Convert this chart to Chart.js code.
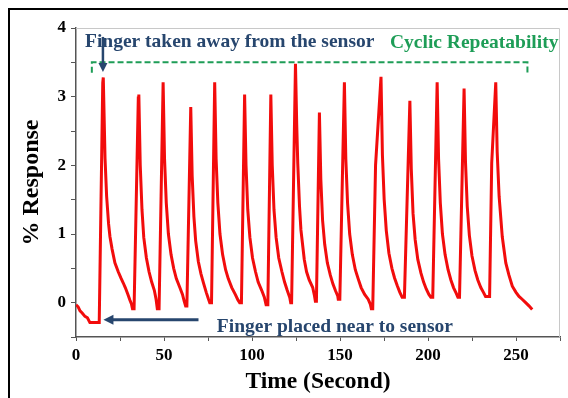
<!DOCTYPE html>
<html>
<head>
<meta charset="utf-8">
<script src="https://cdn.jsdelivr.net/npm/chart.js@4"></script>
<style>
  body { margin: 0; background: #fff; }
  canvas { display: block; }
</style>
</head>
<body>
<canvas id="responseChart" width="568" height="398"></canvas>
<script>
// time (s) and % response
const timeSec = [
    0, 1.2, 2.3, 3.5, 5.1, 6.5, 7.9, 13.2, 15.2, 15.5,
    16.5, 17.4, 18.5, 19.3, 20.5, 22.1, 24.0, 25.5, 26.8, 28.0, 29.5, 30.6, 31.5, 32.1, 33.0, 35.4, 35.7,
    36.5, 37.5, 38.5, 40.0, 41.5, 43.0, 44.5, 45.5, 46.2, 47.2, 49.5,
    50.3, 51.3, 52.5, 54.0, 55.5, 57.0, 59.0, 60.5, 61.5, 62.3, 63.0, 65.2,
    66.0, 67.0, 68.0, 69.5, 71.0, 72.5, 74.0, 75.3, 76.0, 77.0, 78.8,
    79.6, 80.6, 81.8, 83.3, 85.0, 86.5, 88.5, 90.5, 92.0, 93.0, 94.0, 95.8,
    96.6, 97.6, 98.8, 100.3, 102.0, 103.5, 105.5, 107.0, 108.0, 109.0, 110.7,
    111.5, 112.5, 113.7, 115.2, 117.0, 118.5, 120.0, 121.5, 122.0, 122.5, 124.7,
    125.4, 126.0, 127.0, 127.8, 129.7, 131.0, 132.5, 134.5, 135.5, 136.0, 136.6, 138.3,
    139.1, 140.1, 141.3, 142.8, 144.5, 146.0, 147.5, 148.7, 149.0, 149.9, 152.5,
    153.3, 154.3, 155.5, 157.0, 158.7, 160.3, 162.0, 164.0, 166.0, 167.2, 167.8, 168.6, 170.2, 173.3,
    174.1, 175.1, 176.3, 177.8, 179.5, 181.0, 182.5, 184.0, 185.3, 186.6, 189.7,
    190.5, 191.5, 192.7, 194.2, 196.0, 197.5, 199.0, 200.5, 201.6, 202.7, 205.2,
    206.0, 207.0, 208.2, 209.7, 211.4, 213.0, 214.5, 216.0, 217.0, 217.9, 220.5,
    221.3, 222.3, 223.5, 225.0, 226.7, 228.3, 230.0, 231.5, 232.7, 235.0, 236.2, 238.5,
    239.3, 240.4, 242.2, 244.2, 246.0, 247.9, 250.0, 251.7, 253.5, 255.5, 257.5, 259.2
];
const responsePct = [
    -0.03, -0.06, -0.12, -0.15, -0.2, -0.22, -0.29, -0.29, 3.2, 3.28,
    2.1, 1.55, 1.15, 0.96, 0.78, 0.58, 0.45, 0.36, 0.29, 0.22, 0.12, 0.04, -0.02, -0.09, -0.09, 2.98, 3.03,
    2.0, 1.35, 0.95, 0.65, 0.45, 0.3, 0.18, 0.05, -0.09, -0.09, 3.21,
    2.1, 1.45, 1.0, 0.7, 0.5, 0.35, 0.22, 0.12, 0.02, -0.05, -0.05, 2.85,
    1.85, 1.25, 0.9, 0.6, 0.42, 0.28, 0.15, 0.05, 0.0, 0.0, 3.21,
    2.1, 1.45, 1.0, 0.7, 0.48, 0.35, 0.22, 0.12, 0.04, 0.0, 0.0, 3.03,
    2.0, 1.35, 0.95, 0.65, 0.45, 0.3, 0.18, 0.08, -0.03, -0.03, 3.03,
    2.0, 1.35, 0.95, 0.65, 0.45, 0.3, 0.18, 0.07, 0.0, 0.0, 3.48,
    2.6, 2.03, 1.4, 1.06, 0.63, 0.45, 0.33, 0.22, 0.1, 0.02, 0.02, 2.77,
    1.8, 1.2, 0.85, 0.58, 0.4, 0.27, 0.17, 0.1, 0.05, 0.05, 3.21,
    2.1, 1.45, 1.0, 0.7, 0.48, 0.35, 0.22, 0.12, 0.05, -0.02, -0.09, -0.09, 2.0, 3.29,
    2.15, 1.5, 1.05, 0.72, 0.5, 0.36, 0.25, 0.15, 0.08, 0.08, 2.94,
    1.95, 1.3, 0.92, 0.63, 0.43, 0.3, 0.2, 0.12, 0.08, 0.08, 3.21,
    2.1, 1.45, 1.0, 0.7, 0.48, 0.33, 0.22, 0.14, 0.08, 0.08, 3.12,
    2.05, 1.4, 0.98, 0.68, 0.47, 0.33, 0.22, 0.15, 0.09, 0.09, 2.03, 3.21,
    2.2, 1.55, 0.96, 0.58, 0.4, 0.24, 0.15, 0.09, 0.05, 0.0, -0.05, -0.1
];
const xLabelValues = [0, 50, 100, 150, 200, 250];
const yLabelValues = [0, 1, 2, 3, 4];

const serif = '"Liberation Serif", "Times New Roman", serif';
const navy = '#27466e';
const green = '#1e9d57';

const extras = {
    id: 'extras',
    afterDraw(chart) {
        const ctx = chart.ctx;
        const a = chart.chartArea;
        const x = chart.scales.x, y = chart.scales.y;
        ctx.save();

        // light box on top/right
        ctx.strokeStyle = '#c8c8c8';
        ctx.lineWidth = 1;
        ctx.beginPath();
        ctx.moveTo(a.left, a.top + 0.5);
        ctx.lineTo(a.right - 0.5, a.top + 0.5);
        ctx.lineTo(a.right - 0.5, a.bottom);
        ctx.stroke();

        // outer black frame
        ctx.strokeStyle = '#000';
        ctx.lineWidth = 2;
        ctx.strokeRect(9, 9, 600, 420);

        // green dashed bracket
        const bx1 = x.getPixelForValue(9), bx2 = x.getPixelForValue(256.5);
        const by = y.getPixelForValue(3.5), byEnd = y.getPixelForValue(3.35);
        ctx.strokeStyle = green;
        ctx.lineWidth = 2;
        ctx.setLineDash([6, 3]);
        ctx.beginPath();
        ctx.moveTo(bx1, byEnd);
        ctx.lineTo(bx1, by);
        ctx.lineTo(bx2, by);
        ctx.lineTo(bx2, byEnd);
        ctx.stroke();
        ctx.setLineDash([]);

        // down arrow to first peak
        const ax = x.getPixelForValue(15.3);
        const aTop = y.getPixelForValue(3.87), aTip = y.getPixelForValue(3.36);
        ctx.strokeStyle = navy;
        ctx.fillStyle = navy;
        ctx.lineWidth = 2.5;
        ctx.beginPath();
        ctx.moveTo(ax, aTop);
        ctx.lineTo(ax, aTip - 8);
        ctx.stroke();
        ctx.beginPath();
        ctx.moveTo(ax - 4.5, aTip - 9);
        ctx.lineTo(ax + 4.5, aTip - 9);
        ctx.lineTo(ax, aTip);
        ctx.closePath();
        ctx.fill();

        // left arrow to first trough
        const lx1 = x.getPixelForValue(69.6), lTip = x.getPixelForValue(15.6);
        const ly = y.getPixelForValue(-0.25);
        ctx.lineWidth = 3;
        ctx.beginPath();
        ctx.moveTo(lx1, ly);
        ctx.lineTo(lTip + 9, ly);
        ctx.stroke();
        ctx.beginPath();
        ctx.moveTo(lTip + 10, ly - 5);
        ctx.lineTo(lTip + 10, ly + 5);
        ctx.lineTo(lTip, ly);
        ctx.closePath();
        ctx.fill();

        // annotation texts
        ctx.font = 'bold 19.5px ' + serif;
        ctx.textBaseline = 'alphabetic';
        ctx.textAlign = 'left';
        ctx.fillStyle = navy;
        ctx.fillText('Finger taken away from the sensor', 85, 47);
        ctx.fillText('Finger placed near to sensor', x.getPixelForValue(80), 332);
        ctx.fillStyle = green;
        ctx.fillText('Cyclic Repeatability', 390, 48);

        ctx.restore();
    }
};

document.addEventListener('DOMContentLoaded', function () {
    const ctx = document.getElementById('responseChart').getContext('2d');
    new Chart(ctx, {
        type: 'line',
        data: {
            datasets: [{
                data: timeSec.map((t, i) => ({ x: t, y: responsePct[i] })),
                borderColor: '#f20c0c',
                borderWidth: 3,
                pointRadius: 0,
                tension: 0,
                fill: false
            }]
        },
        options: {
            responsive: false,
            animation: false,
            layout: { padding: { left: 8, top: 28, right: 8, bottom: 0 } },
            plugins: {
                legend: { display: false },
                tooltip: { enabled: false }
            },
            scales: {
                x: {
                    type: 'linear',
                    min: 0,
                    max: 275,
                    afterFit: s => { s.height = 61; },
                    grid: { drawOnChartArea: false, tickLength: 4, color: '#555' },
                    border: { color: '#555', width: 1.5 },
                    ticks: {
                        stepSize: 25,
                        autoSkip: false,
                        maxRotation: 0,
                        padding: 4,
                        color: '#000',
                        font: { family: serif, weight: 'bold', size: 17 },
                        callback: v => xLabelValues.includes(v) ? v : ''
                    },
                    title: {
                        display: true,
                        text: 'Time (Second)',
                        color: '#000',
                        font: { family: serif, weight: 'bold', size: 23.5 },
                        padding: { top: 0, bottom: 2 }
                    }
                },
                y: {
                    min: -0.5,
                    max: 4,
                    afterFit: s => { s.width = 68; },
                    grid: { drawOnChartArea: false, tickLength: 5, color: '#555' },
                    border: { color: '#555', width: 1.5 },
                    ticks: {
                        stepSize: 0.5,
                        autoSkip: false,
                        padding: 5,
                        color: '#000',
                        font: { family: serif, weight: 'bold', size: 17 },
                        callback: v => yLabelValues.includes(v) ? v : ''
                    },
                    title: {
                        display: true,
                        text: '% Response',
                        color: '#000',
                        font: { family: serif, weight: 'bold', size: 24 },
                        padding: { top: 9, bottom: 0 }
                    }
                }
            }
        },
        plugins: [extras]
    });
});
</script>
</body>
</html>
